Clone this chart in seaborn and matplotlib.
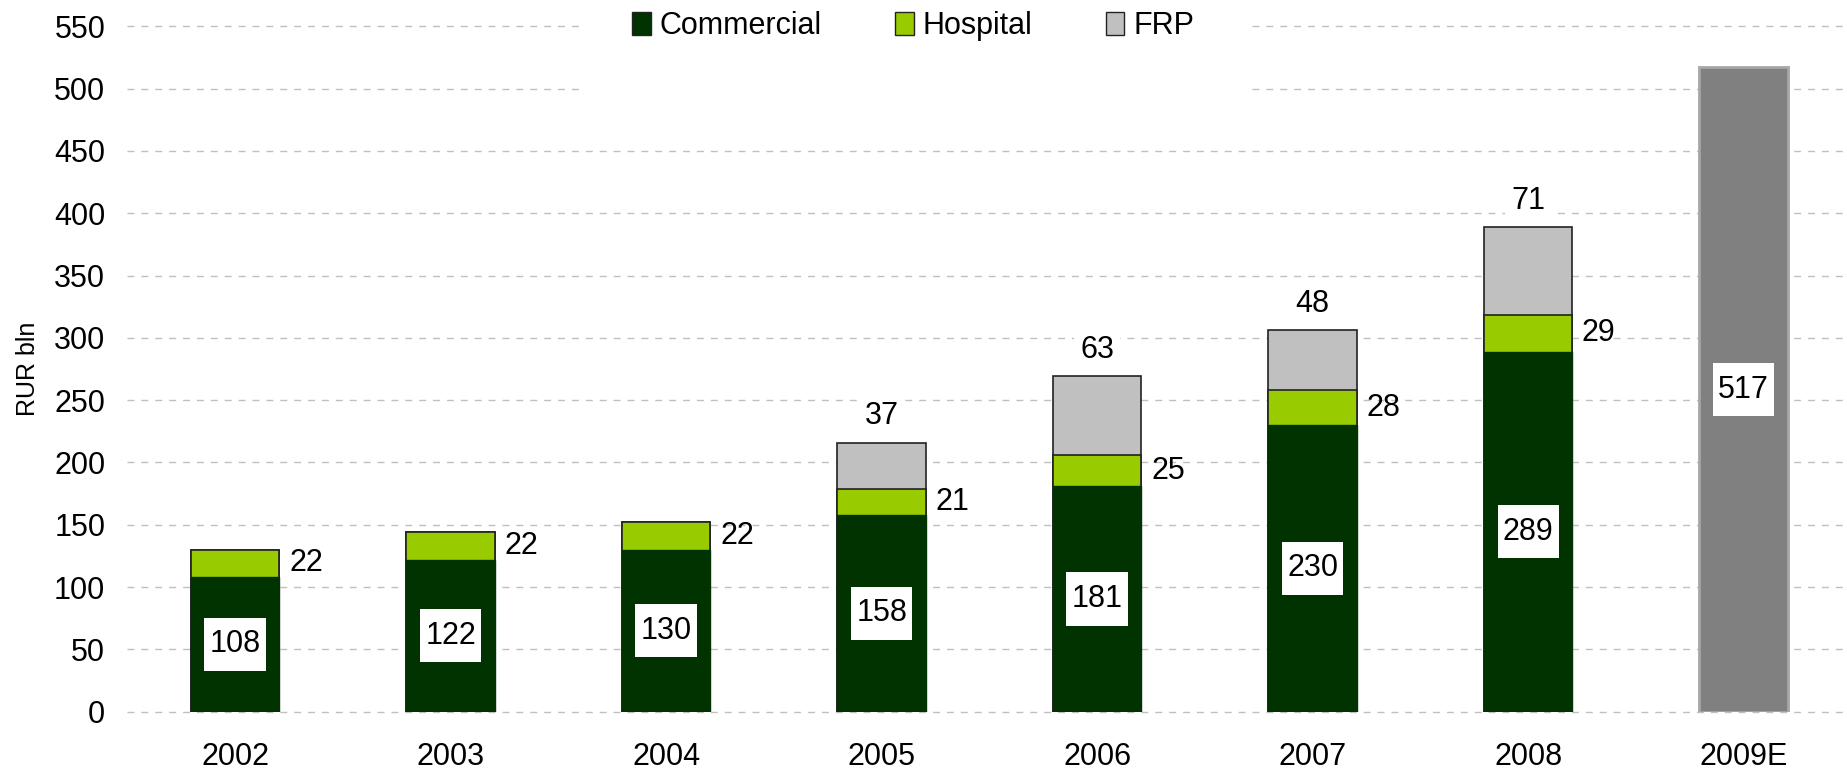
import numpy as np
import pandas as pd
import seaborn as sns
import matplotlib.pyplot as plt
from matplotlib.patches import Patch
from matplotlib.path import Path

# Data
years = ["2002", "2003", "2004", "2005", "2006", "2007", "2008", "2009E"]
commercial = [108, 122, 130, 158, 181, 230, 289, np.nan]
hospital = [22, 22, 22, 21, 25, 28, 29, np.nan]
frp = [0, 0, 0, 37, 63, 48, 71, np.nan]
estimate = [np.nan] * 7 + [517]

df = pd.DataFrame({
    "year": years,
    "commercial": commercial,
    "hospital": hospital,
    "frp": frp,
    "estimate": estimate,
})
df["com_hosp"] = df["commercial"] + df["hospital"]
df["total"] = df["com_hosp"] + df["frp"]

c_com = "#003300"
c_hosp = "#99CC00"
c_frp = "#C0C0C0"
c_est = "#808080"

sns.set_style("white")
plt.rcParams["font.family"] = ["Liberation Sans", "DejaVu Sans"]
plt.rcParams["text.color"] = "black"
plt.rcParams["xtick.color"] = "black"
plt.rcParams["ytick.color"] = "black"
plt.rcParams["axes.labelcolor"] = "black"


def tall_box(x0, y0, width, height, mutation_size):
    # white label box, more padding above/below than at the sides
    px = 0.17 * mutation_size
    py = 0.38 * mutation_size
    x0, y0 = x0 - px, y0 - py
    x1, y1 = x0 + width + 2 * px, y0 + height + 2 * py
    return Path([(x0, y0), (x1, y0), (x1, y1), (x0, y1), (x0, y0)],
                closed=True)


fig = plt.figure(figsize=(18.47, 7.72), dpi=100)
ax = fig.add_axes([0.069, 0.078, 0.931, 0.888])

bw = 0.41
# stacked bars, drawn from the top layer down
sns.barplot(data=df, x="year", y="total", order=years, color=c_frp,
            width=bw, edgecolor="#222222", linewidth=1.2, saturation=1, ax=ax)
sns.barplot(data=df, x="year", y="com_hosp", order=years, color=c_hosp,
            width=bw, edgecolor="#222222", linewidth=1.2, saturation=1, ax=ax)
sns.barplot(data=df, x="year", y="commercial", order=years, color=c_com,
            width=bw, edgecolor=c_com, linewidth=1, saturation=1, ax=ax)
sns.barplot(data=df, x="year", y="estimate", order=years, color=c_est,
            width=bw, edgecolor="#A6A6A6", linewidth=2, saturation=1, ax=ax)

fs = 22
box = dict(boxstyle=tall_box, fc="white", ec="none")

for i, row in df.iterrows():
    if i < 7:
        # commercial value in the middle of the bar
        ax.text(i, row["commercial"] / 2, f"{row['commercial']:.0f}",
                ha="center", va="center", fontsize=fs, bbox=box, zorder=5)
        # hospital value right of the bar
        ax.annotate(f"{row['hospital']:.0f}",
                    (i + bw / 2, row["commercial"] + row["hospital"] / 2),
                    xytext=(7, 0), textcoords="offset points",
                    ha="left", va="center", fontsize=fs)
        if row["frp"] > 0:
            ax.annotate(f"{row['frp']:.0f}", (i, row["total"]),
                        xytext=(0, 8), textcoords="offset points",
                        ha="center", va="bottom", fontsize=fs,
                        bbox=dict(boxstyle="square,pad=0.2", fc="white", ec="none"),
                        zorder=5)
    else:
        ax.text(i, row["estimate"] / 2, f"{row['estimate']:.0f}",
                ha="center", va="center", fontsize=fs, bbox=box, zorder=5)

ax.set_ylim(0, 550)
ax.set_xlim(-0.5, 7.48)
ax.set_yticks(np.arange(0, 551, 50))
ax.yaxis.grid(True, color="#C0C0C0", linestyle=(0, (5, 5)), linewidth=1)
ax.set_axisbelow(True)
sns.despine(ax=ax, left=True, bottom=True, top=True, right=True)
ax.tick_params(axis="y", length=0, pad=16, labelsize=fs)
ax.tick_params(axis="x", length=0, pad=22, labelsize=fs)
ax.set_xlabel("")
ax.set_ylabel("RUR bln", fontsize=18, labelpad=10)
for line in ax.get_ygridlines():
    line.set_clip_on(False)

handles = [
    Patch(facecolor=c_com, edgecolor="#222222", label="Commercial"),
    Patch(facecolor=c_hosp, edgecolor="#222222", label="Hospital"),
    Patch(facecolor=c_frp, edgecolor="#222222", label="FRP"),
]
leg = ax.legend(handles=handles, loc="center", bbox_to_anchor=(0.457, 1.0),
                ncol=3, frameon=True, fontsize=fs, handlelength=0.6,
                handleheight=0.8, handletextpad=0.3, columnspacing=2.4,
                borderpad=1.7, fancybox=False)
leg.get_frame().set_facecolor("white")
leg.get_frame().set_edgecolor("none")
leg.get_frame().set_alpha(1)

plt.savefig("out.png", dpi=100)
